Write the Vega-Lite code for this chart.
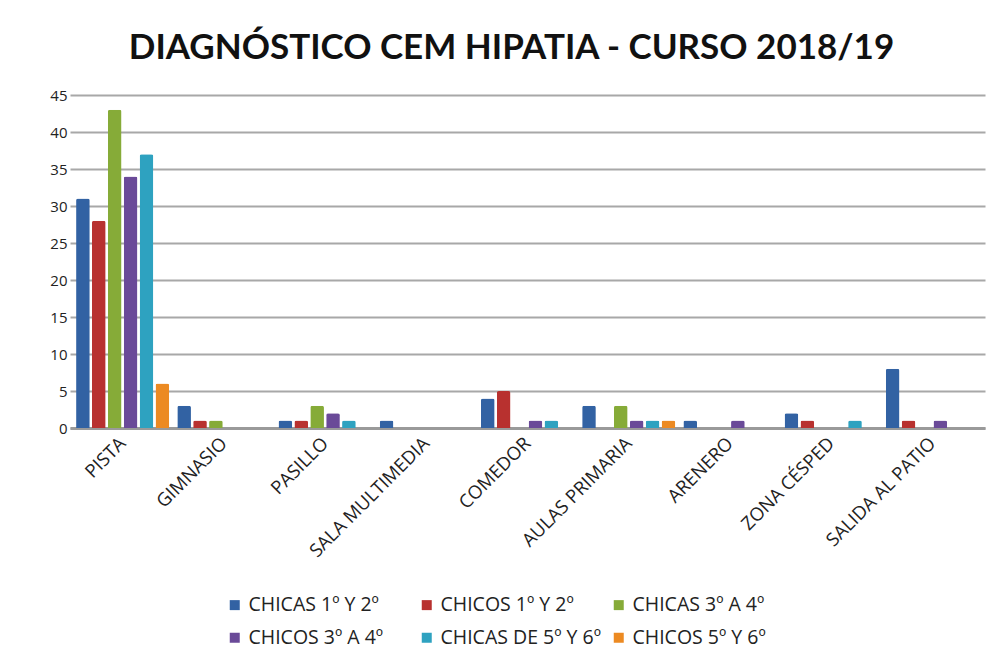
{
  "$schema": "https://vega.github.io/schema/vega-lite/v6.json",
  "autosize": {"type": "none"},
  "width": 915,
  "height": 333,
  "padding": {"left": 70, "top": 95, "right": 4, "bottom": 233},
  "background": "white",
  "title": {
    "text": "DIAGNÓSTICO CEM HIPATIA - CURSO 2018/19",
    "font": "Lato",
    "fontSize": 35,
    "fontWeight": "bold",
    "color": "#111111",
    "anchor": "middle",
    "dx": -16,
    "offset": 22
  },
  "data": {
    "values": [
      {"lugar": "PISTA", "grupo": "CHICAS 1º Y 2º", "n": 31},
      {"lugar": "PISTA", "grupo": "CHICOS 1º Y 2º", "n": 28},
      {"lugar": "PISTA", "grupo": "CHICAS 3º A 4º", "n": 43},
      {"lugar": "PISTA", "grupo": "CHICOS 3º A 4º", "n": 34},
      {"lugar": "PISTA", "grupo": "CHICAS DE 5º Y 6º", "n": 37},
      {"lugar": "PISTA", "grupo": "CHICOS 5º Y 6º", "n": 6},
      {"lugar": "GIMNASIO", "grupo": "CHICAS 1º Y 2º", "n": 3},
      {"lugar": "GIMNASIO", "grupo": "CHICOS 1º Y 2º", "n": 1},
      {"lugar": "GIMNASIO", "grupo": "CHICAS 3º A 4º", "n": 1},
      {"lugar": "GIMNASIO", "grupo": "CHICOS 3º A 4º", "n": 0},
      {"lugar": "GIMNASIO", "grupo": "CHICAS DE 5º Y 6º", "n": 0},
      {"lugar": "GIMNASIO", "grupo": "CHICOS 5º Y 6º", "n": 0},
      {"lugar": "PASILLO", "grupo": "CHICAS 1º Y 2º", "n": 1},
      {"lugar": "PASILLO", "grupo": "CHICOS 1º Y 2º", "n": 1},
      {"lugar": "PASILLO", "grupo": "CHICAS 3º A 4º", "n": 3},
      {"lugar": "PASILLO", "grupo": "CHICOS 3º A 4º", "n": 2},
      {"lugar": "PASILLO", "grupo": "CHICAS DE 5º Y 6º", "n": 1},
      {"lugar": "PASILLO", "grupo": "CHICOS 5º Y 6º", "n": 0},
      {"lugar": "SALA MULTIMEDIA", "grupo": "CHICAS 1º Y 2º", "n": 1},
      {"lugar": "SALA MULTIMEDIA", "grupo": "CHICOS 1º Y 2º", "n": 0},
      {"lugar": "SALA MULTIMEDIA", "grupo": "CHICAS 3º A 4º", "n": 0},
      {"lugar": "SALA MULTIMEDIA", "grupo": "CHICOS 3º A 4º", "n": 0},
      {"lugar": "SALA MULTIMEDIA", "grupo": "CHICAS DE 5º Y 6º", "n": 0},
      {"lugar": "SALA MULTIMEDIA", "grupo": "CHICOS 5º Y 6º", "n": 0},
      {"lugar": "COMEDOR", "grupo": "CHICAS 1º Y 2º", "n": 4},
      {"lugar": "COMEDOR", "grupo": "CHICOS 1º Y 2º", "n": 5},
      {"lugar": "COMEDOR", "grupo": "CHICAS 3º A 4º", "n": 0},
      {"lugar": "COMEDOR", "grupo": "CHICOS 3º A 4º", "n": 1},
      {"lugar": "COMEDOR", "grupo": "CHICAS DE 5º Y 6º", "n": 1},
      {"lugar": "COMEDOR", "grupo": "CHICOS 5º Y 6º", "n": 0},
      {"lugar": "AULAS PRIMARIA", "grupo": "CHICAS 1º Y 2º", "n": 3},
      {"lugar": "AULAS PRIMARIA", "grupo": "CHICOS 1º Y 2º", "n": 0},
      {"lugar": "AULAS PRIMARIA", "grupo": "CHICAS 3º A 4º", "n": 3},
      {"lugar": "AULAS PRIMARIA", "grupo": "CHICOS 3º A 4º", "n": 1},
      {"lugar": "AULAS PRIMARIA", "grupo": "CHICAS DE 5º Y 6º", "n": 1},
      {"lugar": "AULAS PRIMARIA", "grupo": "CHICOS 5º Y 6º", "n": 1},
      {"lugar": "ARENERO", "grupo": "CHICAS 1º Y 2º", "n": 1},
      {"lugar": "ARENERO", "grupo": "CHICOS 1º Y 2º", "n": 0},
      {"lugar": "ARENERO", "grupo": "CHICAS 3º A 4º", "n": 0},
      {"lugar": "ARENERO", "grupo": "CHICOS 3º A 4º", "n": 1},
      {"lugar": "ARENERO", "grupo": "CHICAS DE 5º Y 6º", "n": 0},
      {"lugar": "ARENERO", "grupo": "CHICOS 5º Y 6º", "n": 0},
      {"lugar": "ZONA CÉSPED", "grupo": "CHICAS 1º Y 2º", "n": 2},
      {"lugar": "ZONA CÉSPED", "grupo": "CHICOS 1º Y 2º", "n": 1},
      {"lugar": "ZONA CÉSPED", "grupo": "CHICAS 3º A 4º", "n": 0},
      {"lugar": "ZONA CÉSPED", "grupo": "CHICOS 3º A 4º", "n": 0},
      {"lugar": "ZONA CÉSPED", "grupo": "CHICAS DE 5º Y 6º", "n": 1},
      {"lugar": "ZONA CÉSPED", "grupo": "CHICOS 5º Y 6º", "n": 0},
      {"lugar": "SALIDA AL PATIO", "grupo": "CHICAS 1º Y 2º", "n": 8},
      {"lugar": "SALIDA AL PATIO", "grupo": "CHICOS 1º Y 2º", "n": 1},
      {"lugar": "SALIDA AL PATIO", "grupo": "CHICAS 3º A 4º", "n": 0},
      {"lugar": "SALIDA AL PATIO", "grupo": "CHICOS 3º A 4º", "n": 1},
      {"lugar": "SALIDA AL PATIO", "grupo": "CHICAS DE 5º Y 6º", "n": 0},
      {"lugar": "SALIDA AL PATIO", "grupo": "CHICOS 5º Y 6º", "n": 0}
    ]
  },
  "mark": {"type": "bar", "cornerRadiusTopLeft": 2, "cornerRadiusTopRight": 2},
  "encoding": {
    "x": {
      "field": "lugar",
      "type": "nominal",
      "sort": null,
      "title": null,
      "scale": {"paddingInner": 0.08, "paddingOuter": 0.06},
      "axis": {
        "labelAngle": -45,
        "labelAlign": "right",
        "labelBaseline": "middle",
        "labelFont": "Open Sans",
        "labelFontSize": 18.5,
        "labelColor": "#222222",
        "labelPadding": 12,
        "ticks": false,
        "domainColor": "#9a9a9a",
        "domainWidth": 3
      }
    },
    "xOffset": {
      "field": "grupo",
      "type": "nominal",
      "sort": null,
      "scale": {"paddingInner": 0.14, "domain": ["CHICAS 1º Y 2º", "CHICOS 1º Y 2º", "CHICAS 3º A 4º", "CHICOS 3º A 4º", "CHICAS DE 5º Y 6º", "CHICOS 5º Y 6º"]}
    },
    "y": {
      "field": "n",
      "type": "quantitative",
      "title": null,
      "scale": {"domain": [0, 45]},
      "axis": {
        "values": [0, 5, 10, 15, 20, 25, 30, 35, 40, 45],
        "domain": false,
        "ticks": false,
        "labelFont": "Open Sans",
        "labelFontSize": 15,
        "labelColor": "#222222",
        "labelPadding": 3,
        "gridColor": "#a8a8a8",
        "gridWidth": 2
      }
    },
    "color": {
      "field": "grupo",
      "type": "nominal",
      "title": null,
      "sort": null,
      "scale": {
        "domain": ["CHICAS 1º Y 2º", "CHICOS 1º Y 2º", "CHICAS 3º A 4º", "CHICOS 3º A 4º", "CHICAS DE 5º Y 6º", "CHICOS 5º Y 6º"],
        "range": ["#3262a3", "#b8312f", "#86ab38", "#6a4a98", "#2ea2c0", "#ec8a22"]
      },
      "legend": {
        "orient": "none",
        "legendX": 155,
        "legendY": 500,
        "direction": "horizontal",
        "columns": 3,
        "gridAlign": "all",
        "columnPadding": 8,
        "rowPadding": 12,
        "symbolType": "square",
        "symbolSize": 100,
        "symbolOpacity": 1,
        "labelFont": "Open Sans",
        "labelFontSize": 19.5,
        "labelColor": "#222222",
        "labelLimit": 300,
        "labelOffset": 4
      }
    }
  },
  "config": {
    "view": {"stroke": null}
  }
}
